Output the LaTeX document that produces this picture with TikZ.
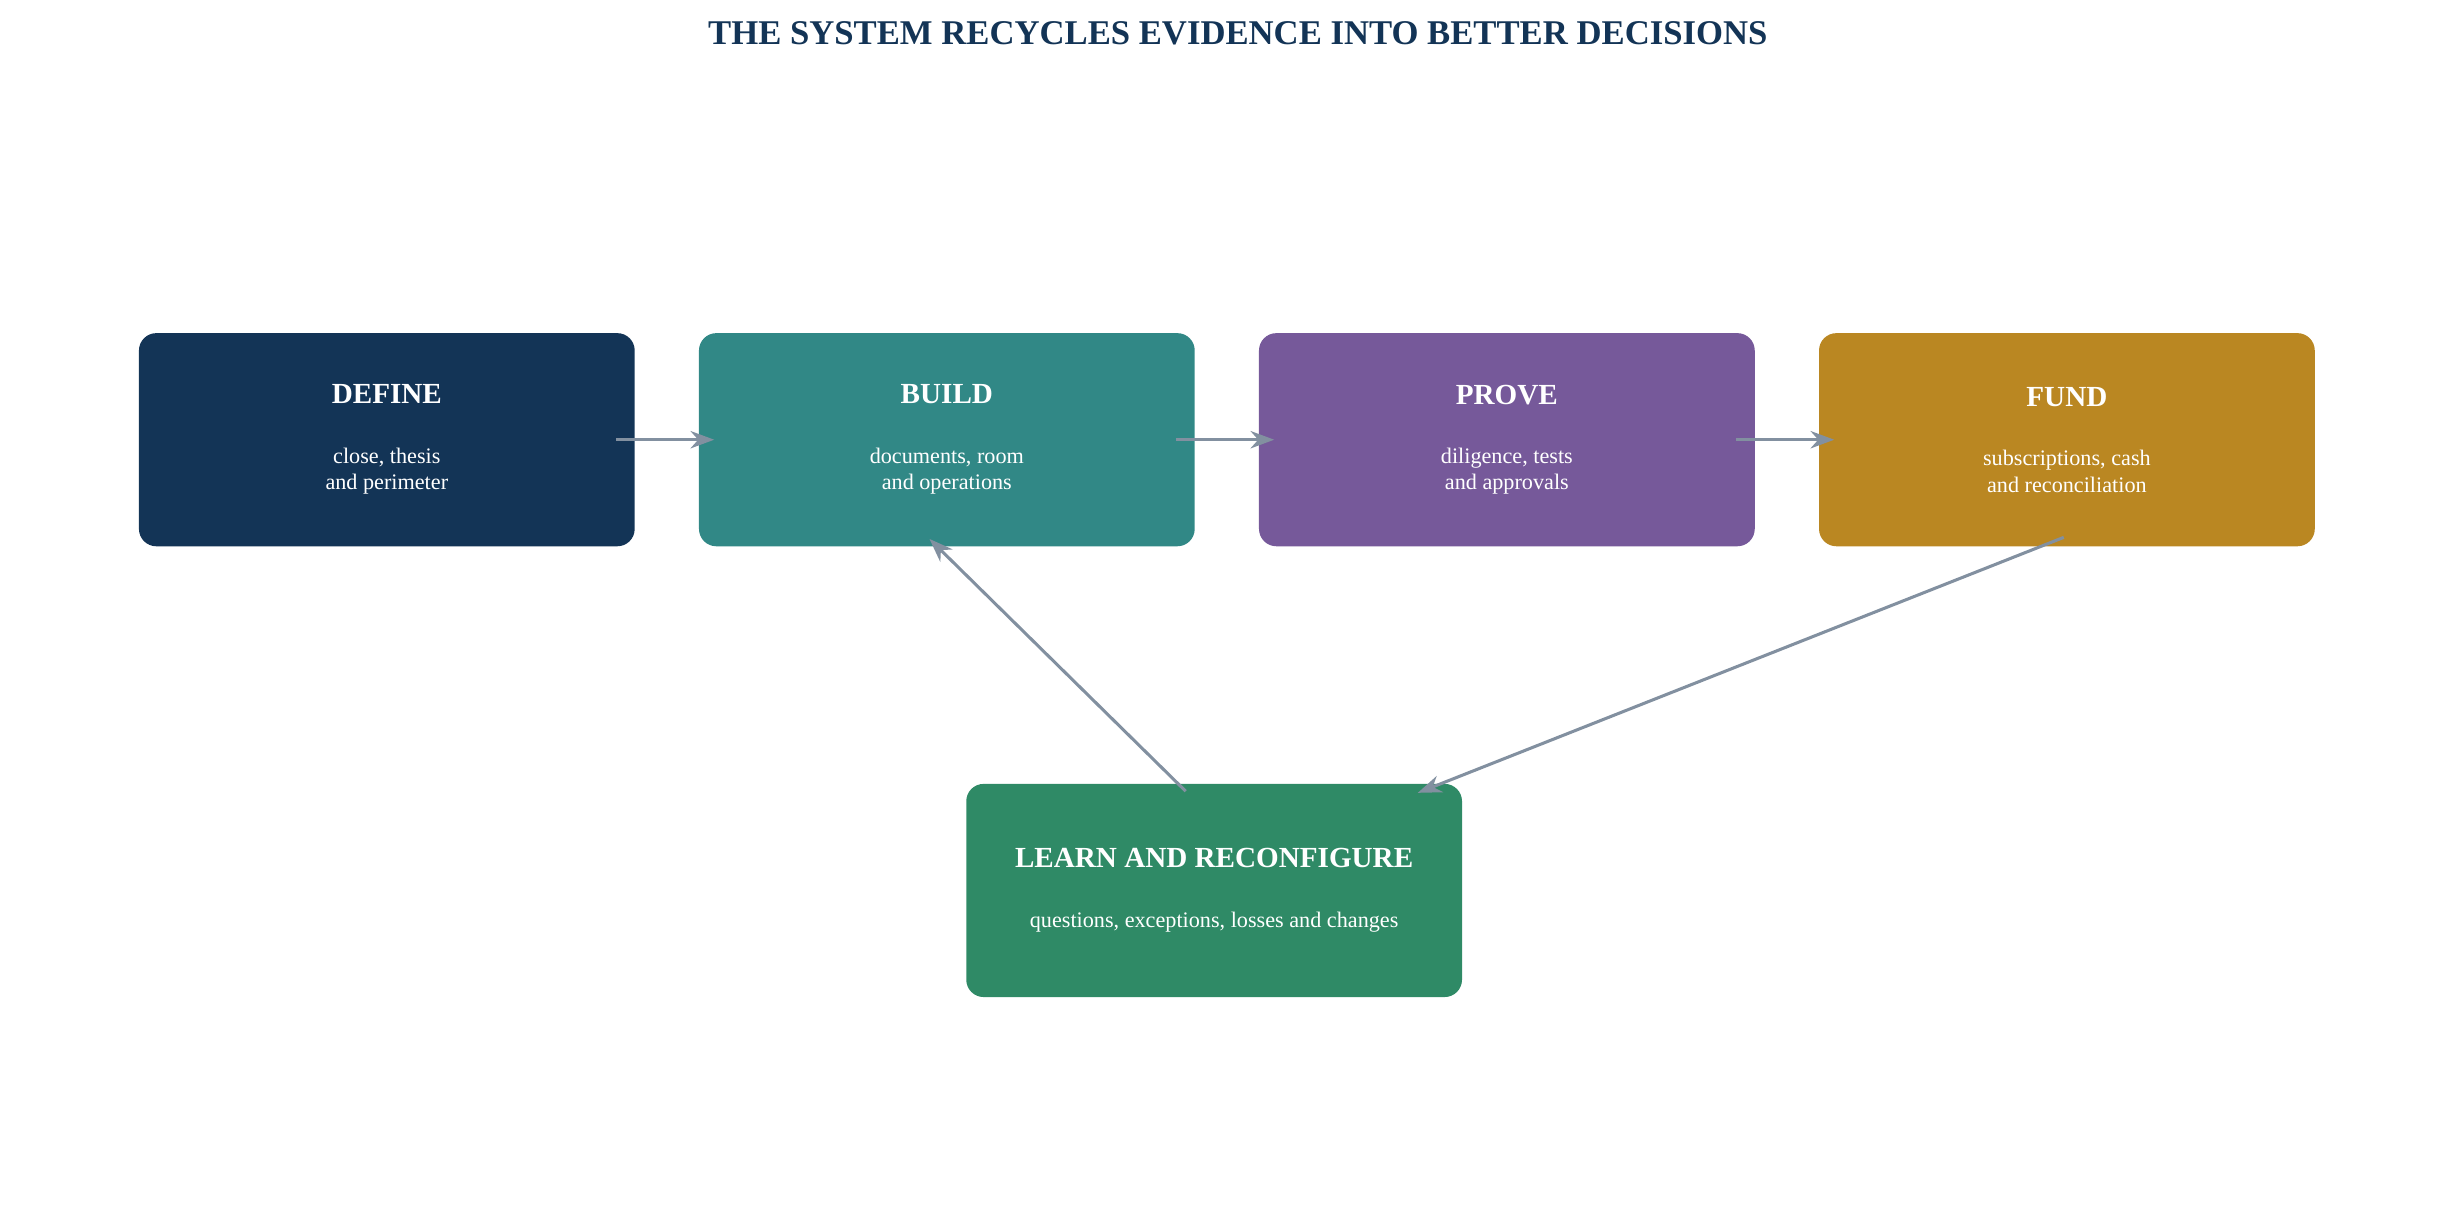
\documentclass[tikz,border=0pt]{standalone}
\usepackage{fontspec}
\setmainfont{Liberation Serif}
\usetikzlibrary{arrows.meta,positioning}
\definecolor{navy}{HTML}{133456}
\definecolor{teal}{HTML}{318886}
\definecolor{plum}{HTML}{76599A}
\definecolor{ochre}{HTML}{BA8722}
\definecolor{leaf}{HTML}{2F8A66}
\definecolor{linkgray}{HTML}{8290A0}
\tikzset{
  stage/.style={rounded corners=0.22cm, minimum width=6.28cm, minimum height=2.7cm, text=white, align=center, font=\fontsize{8}{9.5}\selectfont},
  link/.style={-{Stealth[length=0.3cm,width=0.22cm]}, draw=linkgray, line width=1.1pt}
}
\newcommand{\stagetext}[2]{{\fontsize{10.5}{12}\selectfont\bfseries #1}\\[0.42cm]#2}
\begin{document}
\begin{tikzpicture}
  \useasboundingbox (0,0) rectangle (31.2,-15.33);
  \node[font=\fontsize{12.5}{14}\selectfont\bfseries, text=navy] (title) at (15.68,-0.42) {THE SYSTEM RECYCLES EVIDENCE INTO BETTER DECISIONS};

  \node[stage, fill=navy] (define) at (4.9,-5.57) {\stagetext{DEFINE}{close, thesis\\and perimeter}};
  \node[stage, fill=teal, right=0.8cm of define] (build) {\stagetext{BUILD}{documents, room\\and operations}};
  \node[stage, fill=plum, right=0.8cm of build] (prove) {\stagetext{PROVE}{diligence, tests\\and approvals}};
  \node[stage, fill=ochre, right=0.8cm of prove] (fund) {\stagetext{FUND}{subscriptions, cash\\and reconciliation}};
  \node[stage, fill=leaf] (learn) at (15.38,-11.28) {\stagetext{LEARN AND RECONFIGURE}{questions, exceptions, losses and changes}};

  % main chain
  \draw[link] ([xshift=-0.24cm]define.east) -- ([xshift=0.2cm]build.west);
  \draw[link] ([xshift=-0.24cm]build.east) -- ([xshift=0.2cm]prove.west);
  \draw[link] ([xshift=-0.24cm]prove.east) -- ([xshift=0.2cm]fund.west);
  % feedback loop
  \coordinate (fundout) at ([xshift=-0.04cm,yshift=0.12cm]fund.south);
  \coordinate (learnin) at ([xshift=2.58cm,yshift=-0.12cm]learn.north);
  \draw[link] (fundout) -- (learnin);
  \coordinate (learnout) at ([xshift=-0.36cm,yshift=-0.1cm]learn.north);
  \coordinate (buildin) at ([xshift=-0.22cm,yshift=0.1cm]build.south);
  \draw[link] (learnout) -- (buildin);
\end{tikzpicture}
\end{document}
